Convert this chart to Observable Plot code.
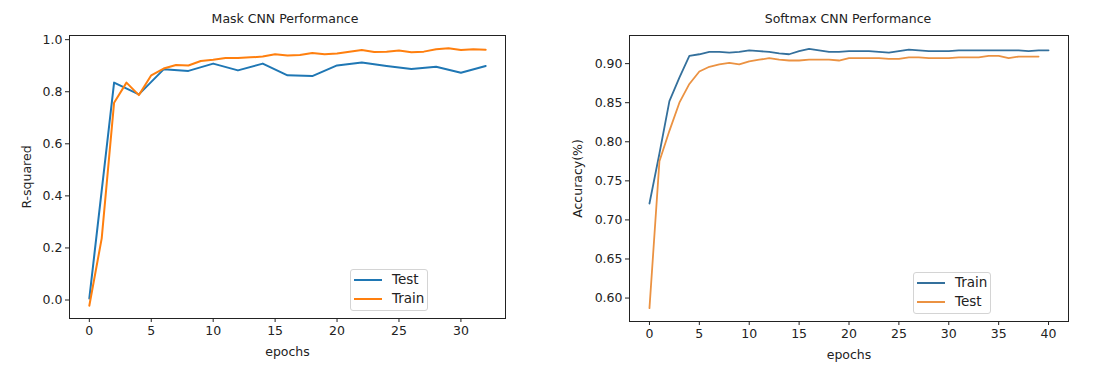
<!DOCTYPE html>
<html>
<head>
<meta charset="utf-8">
<script src="https://cdn.jsdelivr.net/npm/d3@7"></script>
<script src="https://cdn.jsdelivr.net/npm/@observablehq/plot@0.6"></script>
<style>
  body { margin: 0; background: #fff; }
  #wrap { position: relative; width: 1108px; height: 381px; background: #fff; font-family: "DejaVu Sans", sans-serif; color: #222; overflow: hidden; }
  .title { position: absolute; top: 11px; font-size: 12.5px; transform: translateX(-50%); white-space: nowrap; }
  .legend { position: absolute; width: 78px; height: 42px; box-sizing: border-box; border: 1px solid #d4d4d4; border-radius: 3px; background: rgba(255,255,255,0.85); font-size: 13.5px; }
  .legend .sw { position: absolute; height: 2px; }
  .legend .lb { position: absolute; transform: translateY(-50%); line-height: 1; }
  .chart { position: absolute; top: 0; }
</style>
</head>
<body>
<div id="wrap"></div>
<script>
// ---- Left chart: Mask CNN Performance ----
const maskTestEpochs = [0,2,4,6,8,10,12,14,16,18,20,22,24,26,28,30,32];
const maskTest = [0.006,0.835,0.790,0.886,0.880,0.908,0.882,0.908,0.863,0.860,0.901,0.912,0.899,0.887,0.896,0.873,0.899];
const maskTrainEpochs = [0,1,2,3,4,5,6,7,8,9,10,11,12,13,14,15,16,17,18,19,20,21,22,23,24,25,26,27,28,29,30,31,32];
const maskTrain = [-0.022,0.237,0.758,0.835,0.787,0.863,0.889,0.903,0.901,0.918,0.923,0.930,0.930,0.932,0.935,0.944,0.939,0.941,0.949,0.944,0.947,0.954,0.960,0.953,0.954,0.958,0.952,0.954,0.963,0.967,0.960,0.963,0.961];
const maskXTicks = [0,5,10,15,20,25,30];
const maskYTicks = [0.0,0.2,0.4,0.6,0.8,1.0];

// ---- Right chart: Softmax CNN Performance ----
const softTrainEpochs = [0,1,2,3,4,5,6,7,8,9,10,11,12,13,14,15,16,17,18,19,20,21,22,23,24,25,26,27,28,29,30,31,32,33,34,35,36,37,38,39,40];
const softTrain = [0.721,0.785,0.852,0.882,0.910,0.912,0.915,0.915,0.914,0.915,0.917,0.916,0.915,0.913,0.912,0.916,0.919,0.917,0.915,0.915,0.916,0.916,0.916,0.915,0.914,0.916,0.918,0.917,0.916,0.916,0.916,0.917,0.917,0.917,0.917,0.917,0.917,0.917,0.916,0.917,0.917];
const softTestEpochs = [0,1,2,3,4,5,6,7,8,9,10,11,12,13,14,15,16,17,18,19,20,21,22,23,24,25,26,27,28,29,30,31,32,33,34,35,36,37,38,39];
const softTest = [0.587,0.775,0.814,0.850,0.874,0.890,0.896,0.899,0.901,0.899,0.903,0.905,0.907,0.905,0.904,0.904,0.905,0.905,0.905,0.904,0.907,0.907,0.907,0.907,0.906,0.906,0.908,0.908,0.907,0.907,0.907,0.908,0.908,0.908,0.910,0.910,0.907,0.909,0.909,0.909];
const softXTicks = [0,5,10,15,20,25,30,35,40];
const softYTicks = [0.60,0.65,0.70,0.75,0.80,0.85,0.90];

const blueL = "#1f77b4", orangeL = "#ff7f0e";
const blueR = "#34709c", orangeR = "#eb9242";

const wrap = document.getElementById("wrap");
const rows = (xs, ys) => xs.map((x, i) => ({x, y: ys[i]}));

function makeChart({width, marginLeft, marginRight, marginBottom, xDomain, yDomain, xTicks, yTicks, yFmt, yLabel, yLabelOffset, xLabelOffset, series, lw}) {
  return Plot.plot({
    width, height: 381,
    marginLeft, marginRight, marginTop: 35, marginBottom,
    style: {fontFamily: "DejaVu Sans, sans-serif", fontSize: "12.5px", color: "#222", background: "transparent"},
    x: {domain: xDomain},
    y: {domain: yDomain},
    marks: [
      Plot.axisX({ticks: xTicks, tickFormat: d3.format("d"), tickSize: 4, tickPadding: 4, label: "epochs", labelAnchor: "center", labelArrow: "none", labelOffset: xLabelOffset, fontSize: 12.5}),
      Plot.axisY({ticks: yTicks, tickFormat: d3.format(yFmt), tickSize: 4, tickPadding: 3, label: yLabel, labelAnchor: "center", labelArrow: "none", labelOffset: yLabelOffset, fontSize: 12.5}),
      ...series.map(s => Plot.line(rows(s.xs, s.ys), {x: "x", y: "y", stroke: s.color, strokeWidth: lw})),
      Plot.frame({stroke: "#222", strokeWidth: 1})
    ]
  });
}

const left = makeChart({
  width: 560, marginLeft: 69, marginRight: 55, marginBottom: 63,
  xDomain: [-1.6, 33.6], yDomain: [-0.071, 1.016],
  xTicks: maskXTicks, yTicks: maskYTicks, yFmt: ".1f",
  yLabel: "R-squared", yLabelOffset: 47, xLabelOffset: 37,
  series: [
    {xs: maskTestEpochs, ys: maskTest, color: blueL},
    {xs: maskTrainEpochs, ys: maskTrain, color: orangeL}
  ], lw: 2
});
left.classList.add("chart");
left.style.left = "0px";
wrap.appendChild(left);

const right = makeChart({
  width: 548, marginLeft: 69, marginRight: 40, marginBottom: 60,
  xDomain: [-2, 42], yDomain: [0.570, 0.936],
  xTicks: softXTicks, yTicks: softYTicks, yFmt: ".2f",
  yLabel: "Accuracy(%)", yLabelOffset: 56, xLabelOffset: 37,
  series: [
    {xs: softTrainEpochs, ys: softTrain, color: blueR},
    {xs: softTestEpochs, ys: softTest, color: orangeR}
  ], lw: 1.8
});
right.classList.add("chart");
right.style.left = "560px";
wrap.appendChild(right);

function addTitle(text, cx) {
  const d = document.createElement("div");
  d.className = "title"; d.textContent = text; d.style.left = cx + "px";
  wrap.appendChild(d);
}
addTitle("Mask CNN Performance", 285);
addTitle("Softmax CNN Performance", 848);

function addLegend(left, top, items) {
  const box = document.createElement("div");
  box.className = "legend"; box.style.left = left + "px"; box.style.top = top + "px";
  items.forEach((it, i) => {
    const sw = document.createElement("div");
    sw.className = "sw"; sw.style.left = "3px"; sw.style.width = "28px";
    sw.style.top = (10 + i * 19 - 1) + "px"; sw.style.background = it.color;
    const lb = document.createElement("div");
    lb.className = "lb"; lb.style.left = "41px"; lb.style.top = (10 + i * 19) + "px";
    lb.textContent = it.label;
    box.appendChild(sw); box.appendChild(lb);
  });
  wrap.appendChild(box);
}
addLegend(350, 269, [{label: "Test", color: blueL}, {label: "Train", color: orangeL}]);
addLegend(913, 272, [{label: "Train", color: blueR}, {label: "Test", color: orangeR}]);
</script>
</body>
</html>
